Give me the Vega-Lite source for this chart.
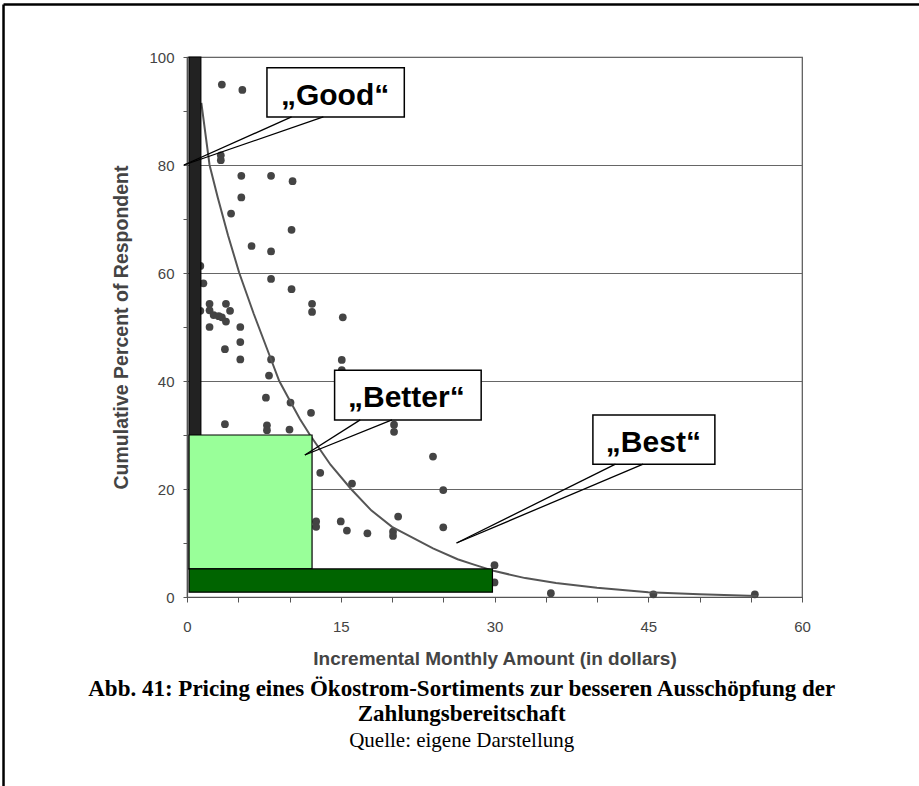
{
  "$schema": "https://vega.github.io/schema/vega-lite/v6.json",
  "width": 615,
  "height": 540,
  "autosize": {"type": "none"},
  "padding": {"left": 187, "top": 57, "right": 117, "bottom": 189},
  "background": "white",
  "config": {
    "view": {"stroke": "#555555", "strokeWidth": 1.2},
    "axis": {
      "labelFont": "Liberation Sans",
      "labelFontSize": 15,
      "labelColor": "#444444",
      "titleFont": "Liberation Sans",
      "titleFontWeight": "bold",
      "titleColor": "#444444",
      "domainColor": "#555555",
      "domainWidth": 1.2,
      "tickColor": "#555555",
      "tickWidth": 1,
      "labelFlush": false,
      "labelOverlap": false
    }
  },
  "title": {
    "text": ["Abb. 41: Pricing eines Ökostrom-Sortiments zur besseren Ausschöpfung der", "Zahlungsbereitschaft"],
    "subtitle": "Quelle: eigene Darstellung",
    "orient": "bottom",
    "anchor": "middle",
    "frame": "bounds",
    "offset": -109,
    "font": "Liberation Serif",
    "fontSize": 23,
    "fontWeight": "bold",
    "color": "#000000",
    "lineHeight": 25,
    "subtitleFont": "Liberation Serif",
    "subtitleFontSize": 21,
    "subtitleFontWeight": "normal",
    "subtitleColor": "#000000",
    "subtitlePadding": 4
  },
  "datasets": {
    "points": [
      {"x": 3.4, "y": 94.9}, {"x": 5.4, "y": 93.9}, {"x": 3.3, "y": 81.8}, {"x": 3.3, "y": 80.9},
      {"x": 5.3, "y": 78}, {"x": 8.2, "y": 78}, {"x": 10.3, "y": 77}, {"x": 5.3, "y": 74},
      {"x": 4.3, "y": 71}, {"x": 10.2, "y": 68}, {"x": 6.3, "y": 65}, {"x": 8.2, "y": 64},
      {"x": 1.3, "y": 61.3}, {"x": 8.2, "y": 58.9}, {"x": 1.6, "y": 58.1}, {"x": 10.2, "y": 57},
      {"x": 2.2, "y": 54.3}, {"x": 3.8, "y": 54.3}, {"x": 12.2, "y": 54.3}, {"x": 12.2, "y": 52.8},
      {"x": 1.3, "y": 53}, {"x": 2.2, "y": 53.1}, {"x": 2.6, "y": 52.2}, {"x": 3.1, "y": 52},
      {"x": 3.4, "y": 51.8}, {"x": 4.2, "y": 53}, {"x": 3.8, "y": 51}, {"x": 15.2, "y": 51.8},
      {"x": 2.2, "y": 50}, {"x": 5.2, "y": 50}, {"x": 5.2, "y": 47.2}, {"x": 3.7, "y": 45.9},
      {"x": 5.2, "y": 44}, {"x": 8.2, "y": 44}, {"x": 15.1, "y": 43.9}, {"x": 15.1, "y": 42},
      {"x": 8.0, "y": 41}, {"x": 7.7, "y": 36.9}, {"x": 10.1, "y": 36}, {"x": 12.1, "y": 34.1},
      {"x": 3.7, "y": 32}, {"x": 7.8, "y": 31.8}, {"x": 7.8, "y": 30.9}, {"x": 10.0, "y": 31},
      {"x": 20.2, "y": 31.9}, {"x": 20.2, "y": 30.6}, {"x": 24, "y": 26}, {"x": 13, "y": 23},
      {"x": 16.1, "y": 21}, {"x": 25, "y": 19.8}, {"x": 12.6, "y": 14}, {"x": 12.6, "y": 13},
      {"x": 15, "y": 14}, {"x": 15.6, "y": 12.3}, {"x": 17.6, "y": 11.8}, {"x": 20.1, "y": 12.1},
      {"x": 20.1, "y": 11.3}, {"x": 20.6, "y": 14.9}, {"x": 25, "y": 12.9}, {"x": 30, "y": 5.9},
      {"x": 30, "y": 2.7}, {"x": 35.5, "y": 0.7}, {"x": 45.5, "y": 0.5}, {"x": 55.4, "y": 0.5}
    ],
    "curve": [
      {"x": 1.4, "y": 91.5}, {"x": 2.2, "y": 80}, {"x": 3, "y": 74}, {"x": 4, "y": 67},
      {"x": 5.1, "y": 60}, {"x": 6.5, "y": 52.5}, {"x": 8, "y": 45}, {"x": 9, "y": 40},
      {"x": 10, "y": 36.5}, {"x": 11, "y": 33}, {"x": 12, "y": 30}, {"x": 14, "y": 24.5},
      {"x": 16, "y": 20}, {"x": 18, "y": 16}, {"x": 20, "y": 13}, {"x": 22, "y": 11},
      {"x": 24, "y": 9}, {"x": 26.4, "y": 7}, {"x": 28, "y": 6}, {"x": 30, "y": 4.8},
      {"x": 33, "y": 3.5}, {"x": 36, "y": 2.6}, {"x": 40, "y": 1.7}, {"x": 45, "y": 0.9},
      {"x": 50, "y": 0.5}, {"x": 55.6, "y": 0.2}
    ],
    "zones": [
      {"tier": "Good", "x": 0.2, "x2": 1.35, "y": 5.2, "y2": 100},
      {"tier": "Better", "x": 0.2, "x2": 12.2, "y": 5.2, "y2": 30},
      {"tier": "Best", "x": 0.2, "x2": 29.8, "y": 0.9, "y2": 5.2}
    ],
    "boxes": [
      {"tier": "Good", "x": 7.8, "x2": 21.2, "y": 88.9, "y2": 98.0},
      {"tier": "Better", "x": 14.4, "x2": 28.7, "y": 32.8, "y2": 42.0},
      {"tier": "Best", "x": 39.6, "x2": 51.5, "y": 24.6, "y2": 33.7}
    ],
    "pointers": [
      {"tier": "Good", "x": 10.2, "y": 88.9, "x2": -0.3, "y2": 80},
      {"tier": "Good", "x": 13.3, "y": 88.9, "x2": -0.3, "y2": 80},
      {"tier": "Better", "x": 16.9, "y": 32.8, "x2": 11.5, "y2": 26.3},
      {"tier": "Better", "x": 20.0, "y": 32.8, "x2": 11.5, "y2": 26.3},
      {"tier": "Best", "x": 41.8, "y": 24.6, "x2": 26.3, "y2": 10},
      {"tier": "Best", "x": 44.5, "y": 24.6, "x2": 26.3, "y2": 10}
    ],
    "labels": [
      {"label": "„Good“", "x": 14.45, "y": 91.1},
      {"label": "„Better“", "x": 21.4, "y": 35.2},
      {"label": "„Best“", "x": 45.5, "y": 26.9}
    ],
    "frame": [
      {"x": -17.9, "y": 109.7, "x2": 71.5, "y2": 109.7},
      {"x": -17.9, "y": 109.7, "x2": -17.9, "y2": -35}
    ]
  },
  "encoding": {
    "x": {
      "field": "x",
      "type": "quantitative",
      "scale": {"domain": [0, 60], "nice": false, "zero": false},
      "axis": {
        "values": [0, 5, 10, 15, 20, 25, 30, 35, 40, 45, 50, 55, 60],
        "labelExpr": "datum.value % 15 === 0 ? datum.label : ''",
        "title": "Incremental Monthly Amount (in dollars)",
        "titleFontSize": 19,
        "grid": false,
        "tickSize": 5,
        "labelPadding": 17,
        "titlePadding": 15
      }
    },
    "y": {
      "field": "y",
      "type": "quantitative",
      "scale": {"domain": [0, 100], "nice": false, "zero": false},
      "axis": {
        "values": [0, 10, 20, 30, 40, 50, 60, 70, 80, 90, 100],
        "labelExpr": "datum.value % 20 === 0 ? datum.label : ''",
        "title": "Cumulative Percent of Respondent",
        "titleFontSize": 19.5,
        "grid": true,
        "gridColor": "#666666",
        "gridWidth": 1.2,
        "gridOpacity": {"condition": {"test": "datum.value % 20 === 0 && datum.value > 0", "value": 1}, "value": 0},
        "tickSize": 4,
        "labelPadding": 9,
        "titlePadding": 17
      }
    }
  },
  "layer": [
    {
      "data": {"name": "frame"},
      "mark": {"type": "rule", "color": "#000000", "strokeWidth": 2.5},
      "encoding": {"x2": {"field": "x2"}, "y2": {"field": "y2"}}
    },
    {
      "data": {"name": "points"},
      "mark": {"type": "circle", "size": 60, "color": "#444444", "opacity": 1}
    },
    {
      "data": {"name": "curve"},
      "mark": {"type": "line", "color": "#555555", "strokeWidth": 2},
      "encoding": {}
    },
    {
      "data": {"name": "zones"},
      "mark": {"type": "rect", "stroke": "#000000", "strokeWidth": 1.2, "opacity": 1},
      "encoding": {
        "x2": {"field": "x2"},
        "y2": {"field": "y2"},
        "color": {
          "field": "tier",
          "type": "nominal",
          "scale": {"domain": ["Good", "Better", "Best"], "range": ["#222222", "#99ff99", "#006400"]},
          "legend": null
        }
      }
    },
    {
      "data": {"name": "boxes"},
      "mark": {"type": "rect", "fill": "#ffffff", "stroke": "#000000", "strokeWidth": 1.5},
      "encoding": {"x2": {"field": "x2"}, "y2": {"field": "y2"}}
    },
    {
      "data": {"name": "pointers"},
      "mark": {"type": "rule", "color": "#000000", "strokeWidth": 1.3},
      "encoding": {"x2": {"field": "x2"}, "y2": {"field": "y2"}}
    },
    {
      "data": {"name": "labels"},
      "mark": {"type": "text", "font": "Liberation Sans", "fontSize": 30, "fontWeight": "bold", "align": "center", "baseline": "alphabetic", "color": "#000000"},
      "encoding": {"text": {"field": "label"}}
    }
  ]
}
